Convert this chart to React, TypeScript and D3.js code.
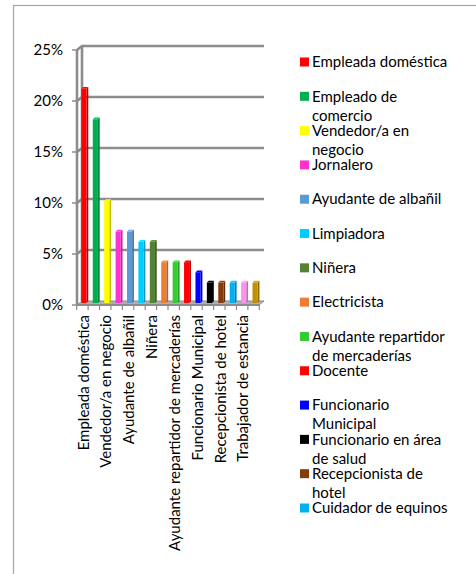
import React, { useEffect, useRef } from "react";
import * as d3 from "d3";

const categories = [
  "Empleada doméstica",
  "Empleado de comercio",
  "Vendedor/a en negocio",
  "Jornalero",
  "Ayudante de albañil",
  "Limpiadora",
  "Niñera",
  "Electricista",
  "Ayudante repartidor de mercaderías",
  "Docente",
  "Funcionario Municipal",
  "Funcionario en área de salud",
  "Recepcionista de hotel",
  "Cuidador de equinos",
  "Trabajador de estancia",
  "Otros",
];
const values = [0.21, 0.18, 0.1, 0.07, 0.07, 0.06, 0.06, 0.04, 0.04, 0.04, 0.03, 0.02, 0.02, 0.02, 0.02, 0.02];
const colors = [
  "#FF0000", "#00B050", "#FFFF00", "#FF33CC", "#5B9BD5", "#00CCFF", "#548235", "#ED7D31",
  "#33CC33", "#FF0000", "#0000FF", "#000000", "#843C0C", "#00B0F0", "#FF8FF0", "#BF9000",
];
// legend lines as wrapped in the original
const legendLines = [
  ["Empleada doméstica"],
  ["Empleado de", "comercio"],
  ["Vendedor/a en", "negocio"],
  ["Jornalero"],
  ["Ayudante de albañil"],
  ["Limpiadora"],
  ["Niñera"],
  ["Electricista"],
  ["Ayudante repartidor", "de mercaderías"],
  ["Docente"],
  ["Funcionario", "Municipal"],
  ["Funcionario en área", "de salud"],
  ["Recepcionista de", "hotel"],
  ["Cuidador de equinos"],
];
const yTicks = [0, 0.05, 0.1, 0.15, 0.2, 0.25];

const FONT = "Lato, 'Open Sans', sans-serif";
const FS = 15;

export default function App() {
  const ref = useRef<SVGSVGElement>(null);

  useEffect(() => {
    const svg = d3.select(ref.current);
    svg.selectAll("*").remove();

    // outer chart frame
    svg.append("rect")
      .attr("x", 13.5).attr("y", 5.5)
      .attr("width", 600).attr("height", 700)
      .attr("fill", "#fff").attr("stroke", "#a6a6a6").attr("stroke-width", 1.2);

    const dx = 5, dy = -4; // depth offset (front -> back)
    const left = 77, right = 259;
    const y = d3.scaleLinear().domain([0, 0.25]).range([305, 50]);
    const x = d3.scaleBand().domain(categories).range([left, right]).paddingInner(0.55).paddingOuter(0.25);

    const grid = "#8c8c8c";

    // floor
    svg.append("path")
      .attr("d", `M${left},${y(0)} L${right},${y(0)} L${right + dx},${y(0) + dy} L${left + dx},${y(0) + dy} Z`)
      .attr("fill", "#b0b0b0").attr("stroke", grid).attr("stroke-width", 1);

    // back wall gridlines + side wall diagonals
    yTicks.forEach((t) => {
      if (t > 0) {
        svg.append("path")
          .attr("d", `M${left},${y(t)} L${left + dx},${y(t) + dy} L${right + dx},${y(t) + dy}`)
          .attr("fill", "none").attr("stroke", grid).attr("stroke-width", 2.6);
      }
    });
    svg.append("line")
      .attr("x1", left + dx).attr("x2", left + dx)
      .attr("y1", y(0.25) + dy).attr("y2", y(0) + dy)
      .attr("stroke", grid).attr("stroke-width", 2.6);

    // front value axis
    svg.append("line")
      .attr("x1", left).attr("x2", left)
      .attr("y1", y(0.25)).attr("y2", y(0))
      .attr("stroke", grid).attr("stroke-width", 2.6);
    yTicks.forEach((t) => {
      svg.append("line")
        .attr("x1", left - 5).attr("x2", left)
        .attr("y1", y(t)).attr("y2", y(t))
        .attr("stroke", grid).attr("stroke-width", 1.5);
      svg.append("text")
        .attr("x", 63).attr("y", y(t)).attr("dy", "0.35em")
        .attr("text-anchor", "end")
        .attr("font-family", FONT).attr("font-size", FS).attr("fill", "#000")
        .text(d3.format(".0%")(t));
    });

    // front floor edge + category ticks
    svg.append("line")
      .attr("x1", left).attr("x2", right)
      .attr("y1", y(0)).attr("y2", y(0))
      .attr("stroke", grid).attr("stroke-width", 2);
    const step = x.step();
    const start = (x(categories[0]) as number) - step * x.paddingInner() / 2;
    d3.range(categories.length + 1).forEach((i) => {
      const tx = start + i * step;
      svg.append("line")
        .attr("x1", tx).attr("x2", tx)
        .attr("y1", y(0)).attr("y2", y(0) + 5)
        .attr("stroke", grid).attr("stroke-width", 1.2);
    });

    // bars (placed at mid depth)
    const mx = dx / 2, my = dy / 2;
    const bw = x.bandwidth();
    const sd = 1.8; // bar's own depth
    categories.forEach((c, i) => {
      const x0 = (x(c) as number) + mx - 1;
      const yt = y(values[i]) + my;
      const yb = y(0) + my;
      const col = d3.color(colors[i])!;
      svg.append("path")
        .attr("d", `M${x0 + bw},${yt} L${x0 + bw + sd},${yt - sd} L${x0 + bw + sd},${yb - sd} L${x0 + bw},${yb} Z`)
        .attr("fill", col.darker(0.8).toString());
      svg.append("path")
        .attr("d", `M${x0},${yt} L${x0 + sd},${yt - sd} L${x0 + bw + sd},${yt - sd} L${x0 + bw},${yt} Z`)
        .attr("fill", col.brighter(0.4).toString());
      svg.append("rect")
        .attr("x", x0).attr("y", yt)
        .attr("width", bw).attr("height", yb - yt)
        .attr("fill", colors[i]);
    });

    // category labels (every other one)
    categories.forEach((c, i) => {
      if (i % 2 !== 0) return;
      const cx = (x(c) as number) + bw / 2 + 1;
      svg.append("text")
        .attr("transform", `translate(${cx},${315}) rotate(-90)`)
        .attr("dy", "0.35em")
        .attr("text-anchor", "end")
        .attr("font-family", FONT).attr("font-size", FS).attr("fill", "#000")
        .text(c);
    });

    // legend
    const ly = d3.scaleLinear().domain([0, 13]).range([62, 508]);
    legendLines.forEach((lines, i) => {
      const cy = ly(i);
      svg.append("rect")
        .attr("x", 300).attr("y", cy - 4.5)
        .attr("width", 9).attr("height", 9)
        .attr("fill", colors[i]);
      lines.forEach((ln, j) => {
        svg.append("text")
          .attr("x", 312).attr("y", cy + j * 19).attr("dy", "0.35em")
          .attr("font-family", FONT).attr("font-size", FS).attr("fill", "#000")
          .text(ln);
      });
    });
  }, []);

  return (
    <svg
      ref={ref}
      width={476}
      height={574}
      style={{ position: "absolute", left: 0, top: 0, background: "#fff" }}
    />
  );
}
